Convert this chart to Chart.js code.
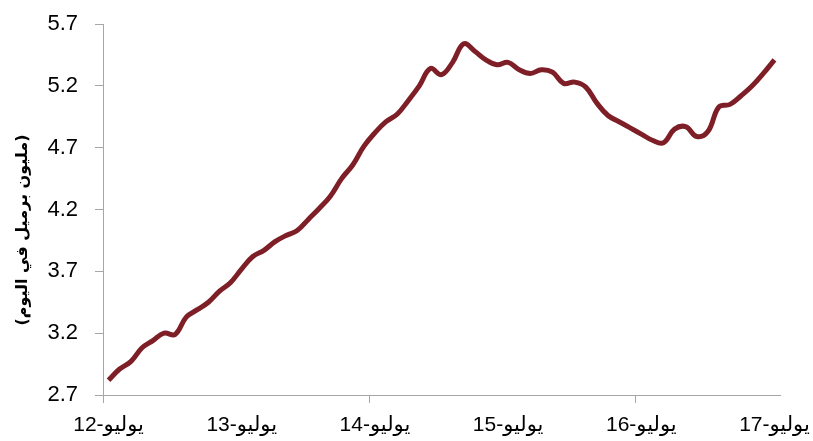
<!DOCTYPE html>
<html>
<head>
<meta charset="utf-8">
<script src="https://cdn.jsdelivr.net/npm/chart.js@4.4.0/dist/chart.umd.min.js"></script>
<style>
  body { margin: 0; background: #fff; }
  #wrap { width: 813px; height: 441px; position: relative; }
</style>
</head>
<body>
<div id="wrap"><canvas id="oilChart"></canvas></div>
<script>
// monthly, July 2012 .. July 2017
const months = ['يناير', 'فبراير', 'مارس', 'أبريل', 'مايو', 'يونيو', 'يوليو', 'أغسطس', 'سبتمبر', 'أكتوبر', 'نوفمبر', 'ديسمبر'];
const startMonth = 6; // يوليو
const startYear = 12;
const production = [
    2.82, 2.91, 2.97, 3.08, 3.14, 3.20, 3.19, 3.33, 3.39, 3.45, 3.54, 3.61,
    3.72, 3.82, 3.87, 3.94, 3.99, 4.03, 4.12, 4.21, 4.31, 4.45, 4.56, 4.71,
    4.82, 4.91, 4.97, 5.08, 5.20, 5.34, 5.29, 5.39, 5.54, 5.48, 5.41, 5.37,
    5.39, 5.33, 5.30, 5.33, 5.31, 5.22, 5.23, 5.19, 5.06, 4.96, 4.91, 4.86,
    4.81, 4.76, 4.74, 4.85, 4.87, 4.79, 4.83, 5.03, 5.05, 5.12, 5.20, 5.30,
    5.41
];
const yTicks = [2.7, 3.2, 3.7, 4.2, 4.7, 5.2, 5.7];
const yTitle = '(مليون برميل في اليوم)';

const categories = production.map((v, i) => {
    const m = (startMonth + i) % 12;
    const y = startYear + Math.floor((startMonth + i) / 12);
    return months[m] + '-' + y;
});

const axisGray = '#a6a6a6';
const fontFamily = '"Liberation Sans", Arial, "DejaVu Sans", sans-serif';

// y axis title, drawn a bit lower than the axis middle like the original
const titlePlugin = {
    id: 'sideTitle',
    afterDraw(chart) {
        const c = chart.ctx;
        c.save();
        c.translate(23, 230);
        c.rotate(-Math.PI / 2);
        c.font = 'bold 16px "DejaVu Sans", sans-serif';
        c.fillStyle = '#000';
        c.textAlign = 'center';
        c.textBaseline = 'middle';
        c.fillText(yTitle, 0, 0);
        c.restore();
    }
};

window.onload = function () {
    const ctx = document.getElementById('oilChart').getContext('2d');
    new Chart(ctx, {
        type: 'line',
        data: {
            labels: categories,
            datasets: [{
                data: production,
                borderColor: '#7e1f27',
                borderWidth: 5,
                pointRadius: 0,
                tension: 0.4,
                fill: false
            }]
        },
        options: {
            responsive: true,
            maintainAspectRatio: false,
            animation: false,
            layout: { padding: { top: 24, right: 33, bottom: 0, left: 0 } },
            plugins: {
                legend: { display: false },
                tooltip: { enabled: false }
            },
            scales: {
                x: {
                    type: 'category',
                    offset: true,
                    grid: {
                        offset: true,
                        drawOnChartArea: false,
                        tickLength: 8,
                        color: (c) => (c.index % 24 === 0 ? axisGray : 'rgba(0,0,0,0)')
                    },
                    border: { color: axisGray, width: 1 },
                    ticks: {
                        autoSkip: false,
                        maxRotation: 0,
                        minRotation: 0,
                        padding: 10,
                        color: '#000',
                        font: { family: fontFamily, size: 21 },
                        callback: function (val, i) {
                            return i % 12 === 0 ? this.getLabelForValue(val) : '';
                        }
                    },
                    afterFit(scale) {
                        scale.height = 46;
                        scale.paddingLeft = 0;
                        scale.paddingRight = 0;
                    }
                },
                y: {
                    min: yTicks[0],
                    max: yTicks[yTicks.length - 1],
                    grid: {
                        drawOnChartArea: false,
                        tickLength: 8,
                        color: axisGray
                    },
                    border: { color: axisGray, width: 1 },
                    ticks: {
                        stepSize: 0.5,
                        padding: 17,
                        color: '#000',
                        font: { family: fontFamily, size: 22 },
                        callback: (v) => Number(v).toFixed(1)
                    },
                    afterFit(scale) {
                        scale.width = 103;
                        scale.paddingTop = 0;
                        scale.paddingBottom = 0;
                    }
                }
            }
        },
        plugins: [titlePlugin]
    });
};
</script>
</body>
</html>
